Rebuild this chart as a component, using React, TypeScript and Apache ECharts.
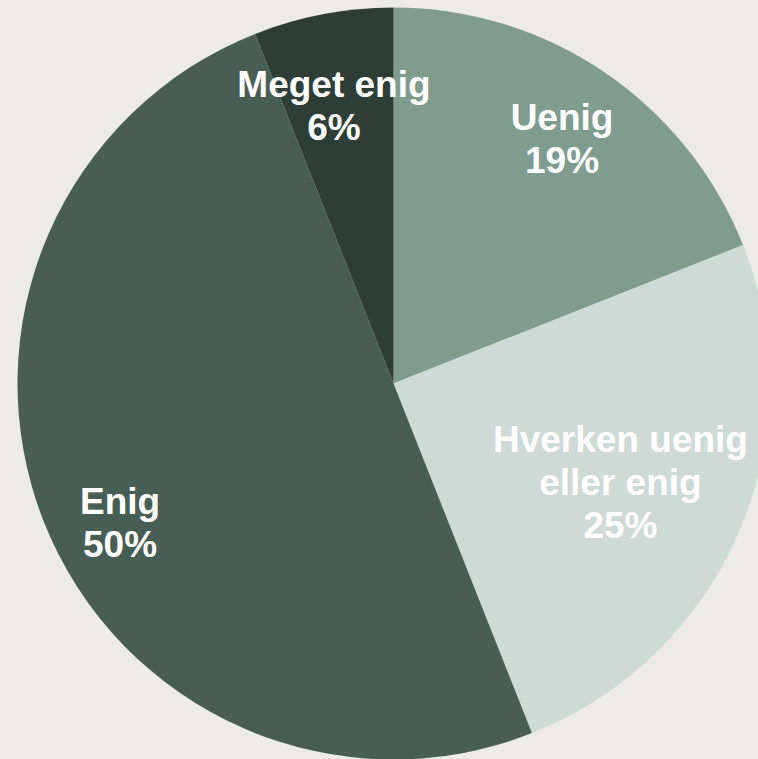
import React, { useEffect, useRef } from "react";
import * as echarts from "echarts";

const categories = ["Uenig", "Hverken uenig eller enig", "Enig", "Meget enig"];
const labelNames = ["Uenig", "Hverken uenig\neller enig", "Enig", "Meget enig"];
const values = [19, 25, 50, 6];
const colors = ["#7F9C8F", "#CDDAD5", "#485D53", "#2E3E36"];
const labelOffsets: [number, number][] = [[2, 1], [-45, -19], [2, 30], [-4, 14]];

export default function App() {
  const ref = useRef<HTMLDivElement>(null);
  useEffect(() => {
    if (!ref.current) return;
    const chart = echarts.init(ref.current, null, { renderer: "svg" });
    const R = 376;
    const center = [393.5, 383.5];
    const pieData = categories.map((c, i) => ({
      name: c,
      value: values[i],
      itemStyle: { color: colors[i] },
    }));
    const labelData = categories.map((c, i) => ({
      name: c,
      value: values[i],
      label: { offset: labelOffsets[i] },
    }));
    chart.setOption({
      animation: false,
      backgroundColor: "#ECEBE9",
      series: [
        {
          type: "pie",
          center,
          radius: R,
          startAngle: 90,
          clockwise: true,
          silent: true,
          label: { show: false },
          labelLine: { show: false },
          itemStyle: { borderWidth: 0 },
          data: pieData,
        },
        {
          type: "pie",
          center,
          radius: [R * 0.56, R],
          startAngle: 90,
          clockwise: true,
          silent: true,
          percentPrecision: 0,
          itemStyle: { color: "transparent", borderWidth: 0 },
          labelLine: { show: false },
          label: {
            show: true,
            position: "inside",
            color: "#FFFFFF",
            fontFamily: "Liberation Sans, Arial, sans-serif",
            fontWeight: "bold",
            fontSize: 37,
            lineHeight: 43,
            align: "center",
            formatter: (p: any) => `${labelNames[p.dataIndex]}\n${p.percent}%`,
          },
          data: labelData,
        },
      ],
    });
    return () => chart.dispose();
  }, []);
  return (
    <div
      ref={ref}
      style={{ position: "fixed", left: 0, top: 0, width: 758, height: 759, background: "#ECEBE9" }}
    />
  );
}
